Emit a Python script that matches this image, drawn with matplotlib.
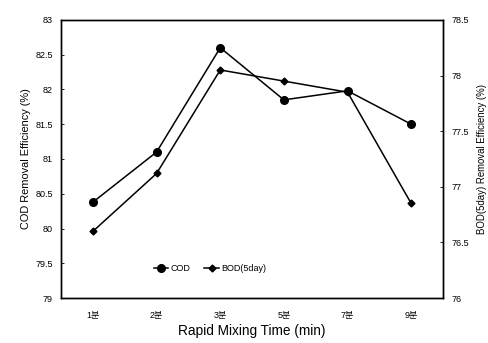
import matplotlib.pyplot as plt

plt.rcParams['font.family'] = ['Liberation Sans', 'Noto Sans CJK KR']

times = ['1분', '2분', '3분', '5분', '7분', '9분']
cod = [80.38, 81.1, 82.6, 81.85, 81.98, 81.5]
bod = [76.6, 77.12, 78.05, 77.95, 77.85, 76.85]

fig = plt.figure(figsize=(4.89, 3.43), dpi=100)
ax = fig.add_axes([0.125, 0.131, 0.781, 0.811])
ax2 = ax.twinx()

x = range(len(times))
l1, = ax.plot(x, cod, color='black', lw=1.1, marker='o', ms=5.5, label='COD')
l2, = ax2.plot(x, bod, color='black', lw=1.1, marker='D', ms=3.5, label='BOD(5day)')

ax.set_xlim(-0.5, 5.5)
ax.set_ylim(79, 83)
ax2.set_ylim(76, 78.5)
ax.set_xticks(list(x))
ax.set_xticklabels(times, fontsize=7)
ax.set_yticks([79, 79.5, 80, 80.5, 81, 81.5, 82, 82.5, 83])
ax.set_yticklabels(['79', '79.5', '80', '80.5', '81', '81.5', '82', '82.5', '83'])
ax2.set_yticks([76, 76.5, 77, 77.5, 78, 78.5])
ax2.set_yticklabels(['76', '76.5', '77', '77.5', '78', '78.5'])

for a in (ax, ax2):
    a.tick_params(direction='in', length=2, width=0.6, labelsize=6.5, pad=6)
    for s in a.spines.values():
        s.set_linewidth(1.0)
ax.tick_params(axis='x', length=0, pad=9)

ax.set_xlabel('Rapid Mixing Time (min)', fontsize=9.8, labelpad=3)
ax.set_ylabel('COD Removal Efficiency (%)', fontsize=7.9, labelpad=3)
ax2.set_ylabel('BOD(5day) Removal Efficiency (%)', fontsize=6.9, labelpad=6)

ax.legend(handles=[l1, l2], loc='lower center', bbox_to_anchor=(0.39, 0.06),
          ncol=2, frameon=False, fontsize=6.5, handlelength=1.6,
          columnspacing=1.5, handletextpad=0.3)

fig.savefig('out.png', dpi=100)
